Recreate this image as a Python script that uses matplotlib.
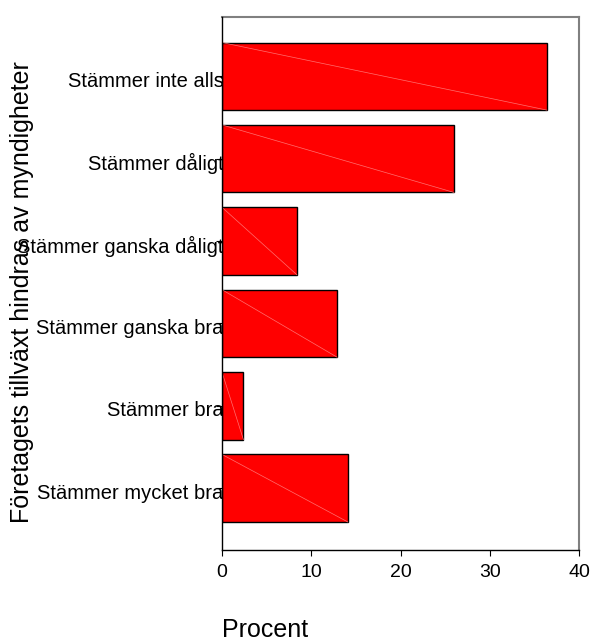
import matplotlib
matplotlib.use("Agg")
import matplotlib.pyplot as plt
import matplotlib.transforms as mtransforms
import numpy as np

plt.rcParams['font.family'] = ['Liberation Sans', 'DejaVu Sans']

categories = ["Stämmer inte alls", "Stämmer dåligt", "Stämmer ganska dåligt",
              "Stämmer ganska bra", "Stämmer bra", "Stämmer mycket bra"]
values = [36.4, 26.0, 8.4, 12.9, 2.4, 14.1]
xticks = [0, 10, 20, 30, 40]
xlabel = "Procent"
ylabel = "Företagets tillväxt hindras av myndigheter"

fig = plt.figure(figsize=(5.9, 6.43), dpi=100)
ax = fig.add_axes([222/590, 1-550/643, (579-222)/590, (550-17)/643])

n = len(categories)
ypos = np.arange(n)[::-1]
h = 0.82
ax.barh(ypos, values, height=h, color='#ff0000', edgecolor='black', linewidth=1.0, zorder=3)
for y, v in zip(ypos, values):
    ax.plot([0, v], [y + h/2, y - h/2], color='#ff7070', lw=0.5, zorder=4)

ax.set_xlim(0, 40)
ax.set_ylim(-0.75, n - 1 + 0.72)
ax.set_xticks(xticks)
ax.set_xticklabels([str(t) for t in xticks], fontsize=14)
ax.set_yticks(ypos)
ax.set_yticklabels(categories, fontsize=14.5)
ax.tick_params(axis='y', length=4, width=0.8, pad=-5)
ax.tick_params(axis='x', length=4, width=0.8, pad=6)

offset = mtransforms.ScaledTranslation(0, -3/100, fig.dpi_scale_trans)
for lab in ax.get_yticklabels():
    lab.set_transform(lab.get_transform() + offset)

for s in ['left', 'bottom']:
    ax.spines[s].set_color('black')
    ax.spines[s].set_linewidth(1.0)
for s in ['top', 'right']:
    ax.spines[s].set_color('#808080')
    ax.spines[s].set_linewidth(1.5)
ax.spines['left'].set_zorder(5)

fig.text(222/590, 1-630/643, xlabel, fontsize=18, ha='left', va='center')
fig.text(22/590, 1-292/643, ylabel, fontsize=18, rotation=90, ha='center', va='center')

fig.savefig("out.png", dpi=100)
